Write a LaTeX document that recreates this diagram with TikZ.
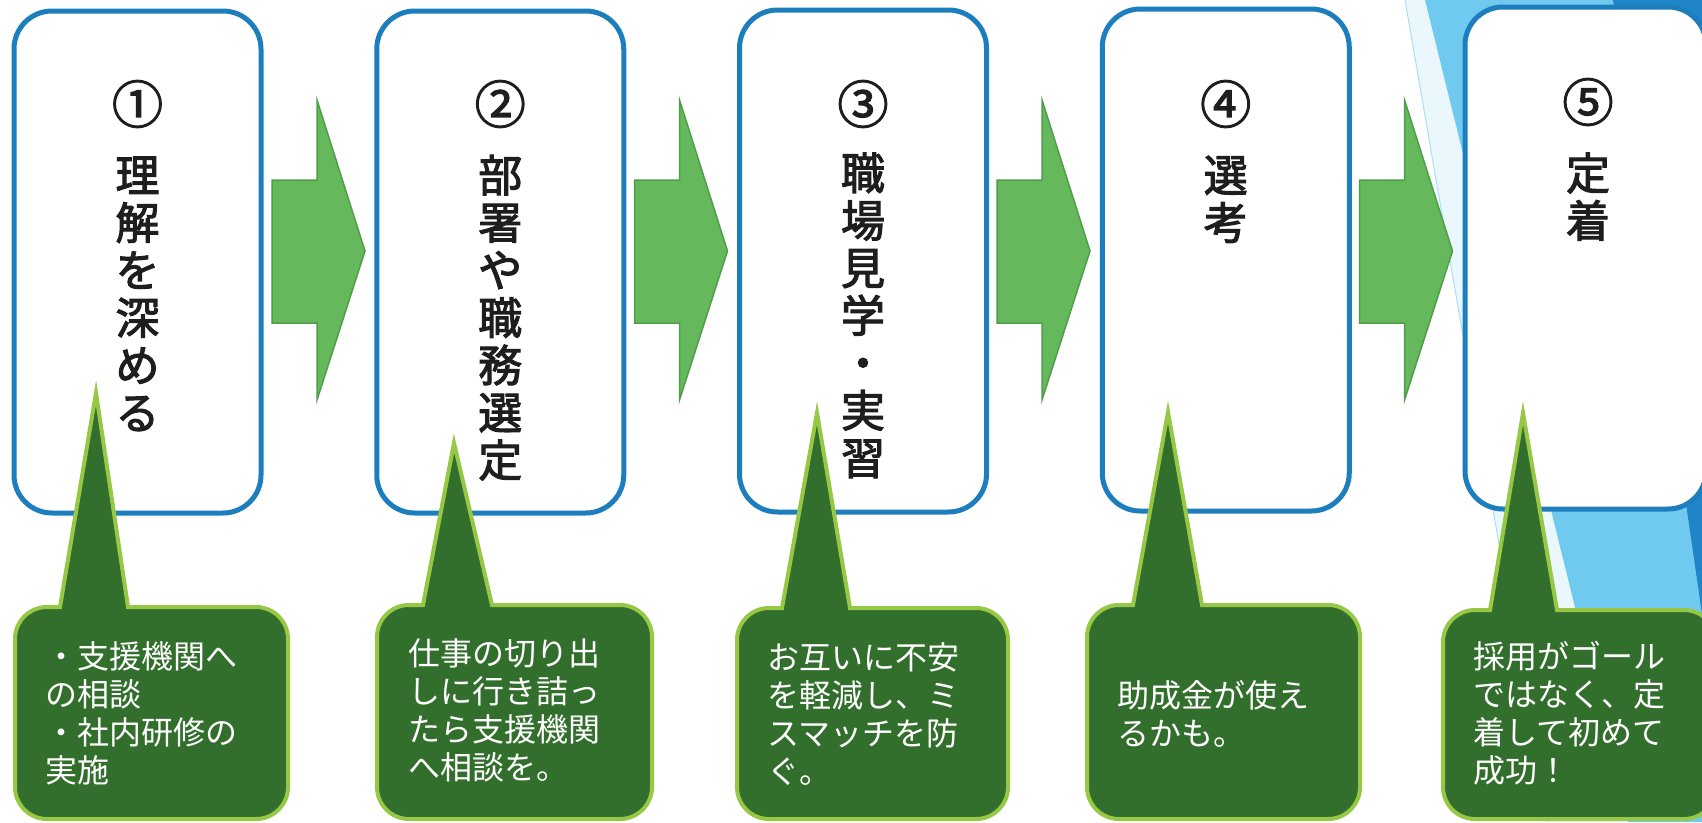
\documentclass[tikz,border=0pt]{standalone}
\usepackage{fontspec}
\setmainfont{Noto Sans CJK JP}
\newfontfamily\titlefont[FakeBold=2.5]{Noto Sans CJK JP}
\definecolor{boxblue}{RGB}{29,126,190}
\definecolor{arrowfill}{RGB}{102,184,92}
\definecolor{arrowedge}{RGB}{78,158,74}
\definecolor{callfill}{RGB}{50,110,44}
\definecolor{calledge}{RGB}{150,200,70}
\definecolor{paleblue}{RGB}{234,247,253}
\definecolor{cyanblue}{RGB}{112,202,240}
\definecolor{deepblue}{RGB}{32,132,200}
\definecolor{titleink}{RGB}{30,30,30}
\newcommand\vs{\rule[-0.12em]{0pt}{1em}}
\begin{document}
\begin{tikzpicture}[x=1pt,y=-1pt,
  stepbox/.style={draw=boxblue, line width=5pt, fill=white, rounded corners=38pt, minimum width=247pt, minimum height=502pt, inner sep=0pt},
  numtext/.style={font=\titlefont\fontsize{51pt}{54pt}\selectfont, text=titleink, inner sep=0pt},
  titletext/.style={font=\titlefont\fontsize{44pt}{47.5pt}\selectfont, text=titleink, align=center, inner sep=0pt},
  blockarrow/.style={fill=arrowfill, draw=arrowedge, line width=1.5pt, line join=miter},
  calloutshape/.style={fill=callfill, draw=calledge, line width=4pt, line join=miter},
  callouttext/.style={font=\fontsize{32pt}{38pt}\selectfont, text=white, align=left, anchor=west, inner sep=0pt}
]
\useasboundingbox (0,0) rectangle (1702,822);
\clip (0,0) rectangle (1702,822);
\fill[white] (0,0) rectangle (1702,822);
% background wedge
\fill[paleblue] (1405,0) -- (1425,0) -- (1628,822) -- (1547,822) -- cycle;
\draw[cyanblue!60, line width=1pt] (1405,0) -- (1547,822);
\fill[cyanblue] (1425,0) -- (1702,0) -- (1702,822) -- (1628,822) -- cycle;
\fill[deepblue] (1613,0) -- (1702,0) -- (1702,614) -- cycle;

% step boxes
\node[stepbox] (b1) at (137.5,262) {};
\node[stepbox] (b2) at (500.25,262) {};
\node[stepbox] (b3) at (863,261) {};
\node[stepbox] (b4) at (1225.75,260) {};
\node[stepbox, minimum width=241pt] (b5) at (1585.5,258) {};

% numbers
\node[numtext] (n1) at (137.5,104) {①\vs};
\node[numtext] (n2) at (500.25,104) {②\vs};
\node[numtext] (n3) at (863,104) {③\vs};
\node[numtext] (n4) at (1225.75,104) {④\vs};
\node[numtext] (n5) at (1588,102) {⑤\vs};

% titles (vertical)
\node[titletext] (t1) at (137.5,293.75) {理\vs\\解\vs\\を\vs\\深\vs\\め\vs\\る\vs};
\node[titletext] (t2) at (500.25,317.5) {部\vs\\署\vs\\や\vs\\職\vs\\務\vs\\選\vs\\定\vs};
\node[titletext] (t3) at (863,315.25) {職\vs\\場\vs\\見\vs\\学\vs\\・\vs\\実\vs\\習\vs};
\node[titletext] (t4) at (1225.75,198.75) {選\vs\\考\vs};
\node[titletext] (t5) at (1588,196.75) {定\vs\\着\vs};

% block arrows
\foreach \x in {272,634.5,997,1359.5}{
  \draw[blockarrow] (\x,180) -- ({\x+45},180) -- ({\x+45},100) -- ({\x+93},251)
    -- ({\x+45},400) -- ({\x+45},323) -- (\x,323) -- cycle;
}

% callouts
\foreach \L/\R/\T/\bl/\br/\tx/\ty in {15/288/607/60/128/96/393, 377/652/605/423/492/454/443, 737/1008/608/782/850/817/413, 1087/1360/605/1133/1202/1168/412, 1443/1716/610/1490/1557/1523/413}{
  \draw[calloutshape] (\tx,\ty) -- (\br,\T) [rounded corners=32pt] -- (\R,\T) -- (\R,819) -- (\L,819) -- (\L,\T) [sharp corners] -- (\bl,\T) -- cycle;
}

\node[callouttext] (c1) at (45,713.5) {・支援機関へ\vs\\の相談\vs\\・社内研修の\vs\\実施\vs};
\node[callouttext] (c2) at (408,710.5) {仕事の切り出\vs\\しに行き詰っ\vs\\たら支援機関\vs\\へ相談を。\vs};
\node[callouttext] (c3) at (767,714) {お互いに不安\vs\\を軽減し、ミ\vs\\スマッチを防\vs\\ぐ。\vs};
\node[callouttext] (c4) at (1117,714) {助成金が使え\vs\\るかも。\vs};
\node[callouttext] (c5) at (1473,713) {採用がゴール\vs\\ではなく、定\vs\\着して初めて\vs\\成功！\vs};
\end{tikzpicture}
\end{document}
